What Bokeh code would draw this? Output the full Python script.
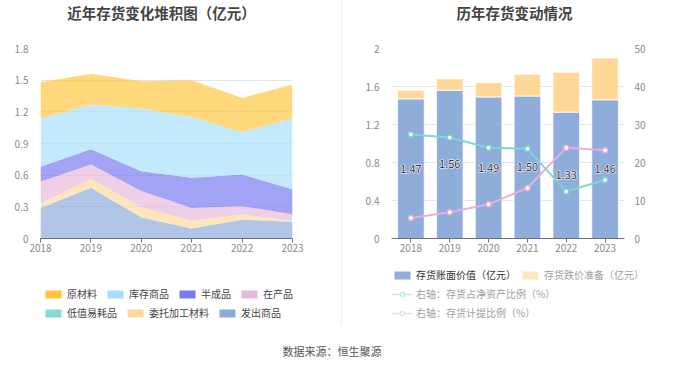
from bokeh.plotting import figure
from bokeh.models import (ColumnDataSource, Range1d, LinearAxis, FixedTicker, Legend,
                          LegendItem, Div, Label)
from bokeh.layouts import row, column
from bokeh.embed import file_html
from bokeh.resources import INLINE
from bokeh.core.properties import value

FONT = "Noto Sans CJK SC"

years = [2018, 2019, 2020, 2021, 2022, 2023]
year_labels = ["2018", "2019", "2020", "2021", "2022", "2023"]

# Left: inventory composition (亿元)
shipped = [0.29, 0.48, 0.20, 0.095, 0.177, 0.158]          # 发出商品
consigned = [0.04, 0.085, 0.097, 0.075, 0.05, 0.012]       # 委托加工材料
low_value = [0.0, 0.0, 0.0, 0.0, 0.0, 0.0]                 # 低值易耗品
in_process = [0.207, 0.135, 0.153, 0.12, 0.079, 0.06]      # 在产品
semi_finished = [0.143, 0.146, 0.188, 0.285, 0.30, 0.237]  # 半成品
stock_goods = [0.454, 0.424, 0.592, 0.575, 0.404, 0.673]   # 库存商品
raw_materials = [0.346, 0.29, 0.26, 0.35, 0.32, 0.32]      # 原材料

left_names = ["发出商品", "委托加工材料", "低值易耗品", "在产品", "半成品", "库存商品", "原材料"]
left_cols = ["s0", "s1", "s2", "s3", "s4", "s5", "s6"]
left_colors = ["#8BAADC", "#FFD99B", "#88D8D8", "#E8B8DA", "#7878F0", "#A6DEFA", "#FFC53D"]
left_ticks = [0, 0.3, 0.6, 0.9, 1.2, 1.5, 1.8]

# Right: inventory change
book_value = [1.47, 1.56, 1.49, 1.50, 1.33, 1.46]          # 存货账面价值（亿元）
impairment = [0.09, 0.12, 0.15, 0.23, 0.42, 0.44]          # 存货跌价准备（亿元）
ratio_net_assets = [27.4, 26.6, 23.9, 23.6, 12.4, 15.4]    # 存货占净资产比例（%）
provision_ratio = [5.4, 6.9, 9.0, 13.3, 23.9, 23.2]        # 存货计提比例（%）
right_ticks = [0, 0.4, 0.8, 1.2, 1.6, 2]
pct_ticks = [0, 10, 20, 30, 40, 50]

AXIS_LABEL = "#8a8a8a"
GRID = "#E0E6F1"
AXIS_LINE = "#6E7079"
LH = 14    # legend row height
TH = 24    # title strip height
CH = 238   # chart figure height (title strip + chart = 262)
LGH = 78   # legend strip height
W1 = 341
W2 = 322
X2 = W1 + 1        # page x where the right panel starts
TOP = TH + CH      # page y where legend strip starts


def style_common(p):
    p.outline_line_color = None
    p.background_fill_color = "white"
    p.border_fill_color = "white"
    p.xgrid.grid_line_color = None
    p.ygrid.grid_line_color = GRID
    for ax in p.xaxis:
        ax.ticker = FixedTicker(ticks=years)
        ax.major_label_overrides = {y: l for y, l in zip(years, year_labels)}
        ax.axis_line_color = AXIS_LINE
        ax.major_tick_line_color = AXIS_LINE
        ax.major_tick_in = 0
        ax.major_tick_out = 4
        ax.minor_tick_line_color = None
        ax.major_label_text_font = FONT
        ax.major_label_text_font_size = "10px"
        ax.major_label_text_color = AXIS_LABEL
        ax.major_label_standoff = 1
    for ax in p.yaxis:
        ax.axis_line_color = None
        ax.major_tick_line_color = None
        ax.minor_tick_line_color = None
        ax.major_label_text_font = FONT
        ax.major_label_text_font_size = "10px"
        ax.major_label_text_color = AXIS_LABEL
        ax.major_label_standoff = 6


def blank_fig(width, height):
    f = figure(width=width, height=height, output_backend="svg", toolbar_location=None,
               x_range=Range1d(0, width), y_range=Range1d(0, height),
               min_border=0, min_border_left=0, min_border_right=0,
               min_border_top=0, min_border_bottom=0)
    f.axis.visible = False
    f.grid.visible = False
    f.outline_line_color = None
    f.background_fill_color = "white"
    f.border_fill_color = "white"
    return f


def title_fig(width, text, cx):
    f = blank_fig(width, TH)
    f.add_layout(Label(x=cx, y=TH - 12, text=text, text_align="center",
                       text_baseline="middle", text_font=FONT, text_font_size="14.5px",
                       text_font_style="bold", text_color="#444444"))
    return f


def make_legend(items, loc, text_color):
    lg = Legend(items=items, location=loc, orientation="horizontal")
    lg.glyph_width = 20
    lg.glyph_height = 10
    lg.label_height = LH
    lg.label_standoff = 4
    lg.spacing = 8
    lg.padding = 0
    lg.margin = 0
    lg.border_line_color = None
    lg.background_fill_alpha = 0
    lg.label_text_font = FONT
    lg.label_text_font_size = "10px"
    lg.label_text_color = text_color
    return lg


def vy(center):
    # bottom-left y of a legend row whose centre is at page y = center
    return LGH - (center - TOP + LH / 2)


def divider(h, bottom_gap=0):
    return Div(width=1, height=h, margin=(0, 0, bottom_gap, 0),
               styles={"background-color": "#EEEEEE"})


# ---------------- Left panel ----------------
T1 = title_fig(W1, "近年存货变化堆积图（亿元）", 161)
p1 = figure(width=W1, height=CH, output_backend="svg", toolbar_location=None,
            x_range=Range1d(2018, 2023), y_range=Range1d(0, 1.8),
            min_border_left=40, min_border_right=W1 - 292, min_border_top=48 - TH,
            min_border_bottom=TOP - 238)
style_common(p1)
p1.yaxis.ticker = FixedTicker(ticks=left_ticks)
p1.yaxis.major_label_overrides = {0: "0", 0.3: "0.3", 0.6: "0.6", 0.9: "0.9",
                                  1.2: "1.2", 1.5: "1.5", 1.8: "1.8"}

src1 = ColumnDataSource(dict(year=years, s0=shipped, s1=consigned, s2=low_value, s3=in_process,
                             s4=semi_finished, s5=stock_goods, s6=raw_materials))
p1.varea_stack(stackers=left_cols, x="year", color=left_colors, fill_alpha=0.68, source=src1)

# legend strip: swatches drawn from the same data, lying outside its view
L1 = blank_fig(W1, LGH)
sw = {}
for name, col, c in zip(left_names, left_cols, left_colors):
    sw[name] = L1.quad(left="year", right="year", top=col, bottom=col, source=src1,
                       fill_color=c, line_color=None)
row1 = ["原材料", "库存商品", "半成品", "在产品"]
row2 = ["低值易耗品", "委托加工材料", "发出商品"]
L1.add_layout(make_legend([LegendItem(label=n, renderers=[sw[n]]) for n in row1],
                          (43, vy(294)), "#444444"), "center")
L1.add_layout(make_legend([LegendItem(label=n, renderers=[sw[n]]) for n in row2],
                          (43, vy(313)), "#444444"), "center")

# ---------------- Right panel ----------------
T2 = title_fig(W2, "历年存货变动情况", 514 - X2)
p2 = figure(width=W2, height=CH, output_backend="svg", toolbar_location=None,
            x_range=Range1d(2017.5, 2023.5), y_range=Range1d(0, 2),
            min_border_left=391 - X2, min_border_right=X2 + W2 - 624, min_border_top=48 - TH,
            min_border_bottom=TOP - 238)
p2.extra_y_ranges = {"pct": Range1d(0, 50)}
p2.add_layout(LinearAxis(y_range_name="pct"), "right")
style_common(p2)
p2.yaxis[0].ticker = FixedTicker(ticks=right_ticks)
p2.yaxis[0].major_label_overrides = {0: "0", 0.4: "0.4", 0.8: "0.8", 1.2: "1.2", 1.6: "1.6", 2: "2"}
p2.yaxis[1].ticker = FixedTicker(ticks=pct_ticks)
p2.yaxis[1].major_label_standoff = 4

src2 = ColumnDataSource(dict(year=years, book=book_value, imp=impairment,
                             r1=ratio_net_assets, r2=provision_ratio,
                             ly=[v / 2 for v in book_value],
                             lab=["%.2f" % v for v in book_value]))
p2.vbar_stack(["book", "imp"], x="year", width=0.686, color=["#8EADDB", "#FFD899"],
              line_color="white", line_width=0.8, source=src2)

c1 = "#7DD6D4"
c2 = "#E6B0D8"
p2.line(x="year", y="r1", y_range_name="pct", line_color=c1, line_width=2, source=src2)
p2.scatter(x="year", y="r1", y_range_name="pct", size=5, fill_color="white",
           line_color=c1, line_width=1.5, source=src2)
p2.line(x="year", y="r2", y_range_name="pct", line_color=c2, line_width=2, source=src2)
p2.scatter(x="year", y="r2", y_range_name="pct", size=5, fill_color="white",
           line_color=c2, line_width=1.5, source=src2)

p2.text(x="year", y="ly", text="lab", source=src2, text_align="center", text_baseline="middle",
        text_font=value(FONT), text_font_size="11px", text_color="white",
        text_outline_color="white")
p2.text(x="year", y="ly", text="lab", source=src2, text_align="center", text_baseline="middle",
        text_font=value(FONT), text_font_size="11px", text_color="#333333")

L2 = blank_fig(W2, LGH)
d_book = L2.quad(left="year", right="year", top="book", bottom="book", source=src2,
                 fill_color="#8EADDB", line_color=None)
d_imp = L2.quad(left="year", right="year", top="imp", bottom="imp", source=src2,
                fill_color="#FFE6C2", line_color=None)
d_l1 = L2.line(x="year", y="r1", source=src2, line_color="#BDEBEA", line_width=1.5)
d_m1 = L2.scatter(x="year", y="r1", source=src2, size=9, fill_color="white",
                  line_color="#BDEBEA", line_width=1.5)
d_l2 = L2.line(x="year", y="r2", source=src2, line_color="#F3D8EC", line_width=1.5)
d_m2 = L2.scatter(x="year", y="r2", source=src2, size=9, fill_color="white",
                  line_color="#F3D8EC", line_width=1.5)

L2.add_layout(make_legend([LegendItem(label="存货账面价值（亿元）", renderers=[d_book])],
                          (392 - X2, vy(275)), "#333333"), "center")
L2.add_layout(make_legend([LegendItem(label="存货跌价准备（亿元）", renderers=[d_imp])],
                          (520 - X2, vy(275)), "#a0a0a0"), "center")
L2.add_layout(make_legend([LegendItem(label="右轴：存货占净资产比例（%）", renderers=[d_l1, d_m1])],
                          (392 - X2, vy(294)), "#a0a0a0"), "center")
L2.add_layout(make_legend([LegendItem(label="右轴：存货计提比例（%）", renderers=[d_l2, d_m2])],
                          (392 - X2, vy(313)), "#a0a0a0"), "center")

footer = Div(text="数据来源：恒生聚源", width=664, height=22, margin=(0, 0, 0, 0),
             styles={"text-align": "center", "font-family": FONT, "font-size": "11px",
                     "color": "#555555", "line-height": "22px"})

layout = column(
    row(T1, divider(TH), T2, spacing=0),
    row(p1, divider(CH), p2, spacing=0),
    row(L1, divider(325 - TOP, LGH - (325 - TOP)), L2, spacing=0),
    footer, spacing=0)
open("out.html", "w").write(file_html(layout, INLINE))
